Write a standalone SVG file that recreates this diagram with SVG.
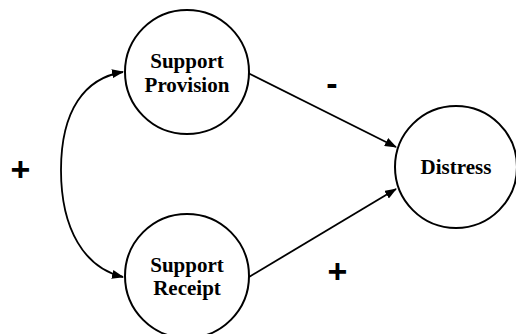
<svg xmlns="http://www.w3.org/2000/svg" width="516" height="334" viewBox="0 0 516 334">
<style>
.node circle{fill:#fff;stroke:#000;stroke-width:2}
.lbl{font-family:"Liberation Serif",serif;font-weight:bold;font-size:21px;text-anchor:middle;fill:#000}
.sign{font-family:"Liberation Sans",Arial,sans-serif;font-weight:bold;font-size:34px;text-anchor:middle;fill:#000}
.edge{fill:none;stroke:#000;stroke-width:1.8}
</style>
<defs>
<marker id="ah" markerUnits="userSpaceOnUse" markerWidth="12" markerHeight="9" refX="11" refY="4.5" orient="auto-start-reverse">
<path d="M0,0 L12,4.5 L0,9 z" fill="#000"/>
</marker>
</defs>
<rect width="516" height="334" fill="#fff"/>
<g id="connectors">
<path class="edge" d="M123,72 C85,78 61,110 61,170 C61,230 85,268 123,277" marker-start="url(#ah)" marker-end="url(#ah)"/>
<path class="edge" d="M248,73 L396,147" marker-end="url(#ah)"/>
<path class="edge" d="M249,277 L396,189" marker-end="url(#ah)"/>
</g>
<g id="provision" class="node">
<circle cx="187" cy="72" r="62"/>
<text class="lbl" x="187" y="68">Support</text>
<text class="lbl" x="187" y="92">Provision</text>
</g>
<g id="receipt" class="node">
<circle cx="187" cy="276" r="62"/>
<text class="lbl" x="187" y="272">Support</text>
<text class="lbl" x="187" y="295">Receipt</text>
</g>
<g id="distress" class="node">
<circle cx="456" cy="167" r="61"/>
<text class="lbl" x="456" y="174">Distress</text>
</g>
<g id="signs">
<text class="sign" x="20.5" y="181">+</text>
<text class="sign" x="332" y="95">-</text>
<text class="sign" x="337.5" y="282.5">+</text>
</g>
</svg>
